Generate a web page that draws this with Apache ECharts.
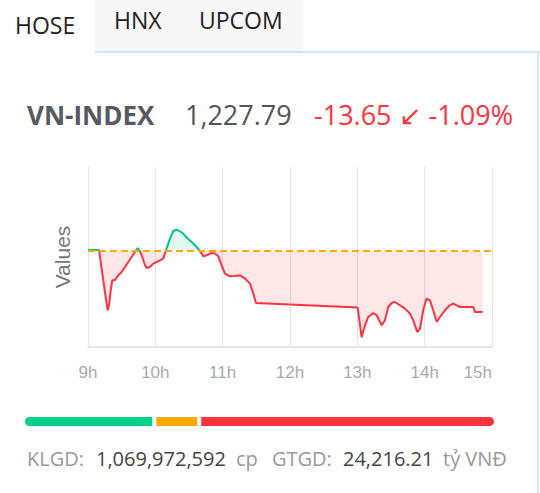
<!DOCTYPE html>
<html>
<head>
<meta charset="utf-8">
<script src="https://cdn.jsdelivr.net/npm/echarts@6/dist/echarts.min.js"></script>
<style>
  html, body { margin:0; padding:0; background:#fff; }
  body { width:540px; height:493px; position:relative; overflow:hidden; font-family:"Open Sans","Noto Sans",sans-serif; }
  #chart { position:absolute; left:0; top:0; width:540px; height:493px; }
  .tabgrey { position:absolute; left:95px; top:0; width:208px; height:52px; background:#f7f7f7; }
  .bline { position:absolute; background:#d2e6fb; }
  .tab { position:absolute; font-size:23px; color:#222; line-height:30px; white-space:nowrap; }
  .hdr { position:absolute; top:99px; line-height:32px; font-size:27px; white-space:nowrap; }
  .ft { position:absolute; top:444px; line-height:30px; font-size:20px; white-space:nowrap; }
</style>
</head>
<body>
<div class="tabgrey"></div>
<div class="bline" style="left:95px;top:51px;width:445px;height:2px;"></div>
<div class="bline" style="left:537px;top:51px;width:2px;height:442px;"></div>
<div class="tab" style="left:15px;top:10px;">HOSE</div>
<div class="tab" style="left:114px;top:5px;">HNX</div>
<div class="tab" style="left:199px;top:5px;">UPCOM</div>

<div class="hdr" style="left:27px;font-weight:bold;font-size:26px;color:#575a62;">VN-INDEX</div>
<div class="hdr" style="left:185px;color:#555;">1,227.79</div>
<div class="hdr" style="left:314px;color:#ff3340;">-13.65 ↙ -1.09%</div>

<div id="chart"></div>

<div class="ft" style="left:27px;color:#999;">KLGD:</div>
<div class="ft" style="left:96px;color:#444;">1,069,972,592</div>
<div class="ft" style="left:236px;color:#999;">cp</div>
<div class="ft" style="left:272px;color:#999;">GTGD:</div>
<div class="ft" style="left:343px;color:#444;">24,216.21</div>
<div class="ft" style="left:443px;color:#999;">tỷ VNĐ</div>

<script>
// ---- data ----
const refValue = 1241.44;
const times = [
  "09:00:00","09:09:50","09:15:06","09:17:30","09:18:42","09:20:30","09:21:36","09:24:06","09:27:00","09:30:00",
  "09:33:00","09:35:54","09:38:54","09:41:54","09:44:18","09:46:18","09:48:24","09:50:48","09:52:18","09:55:12",
  "09:58:12","10:01:12","10:04:06","10:07:06","10:09:30","10:13:06","10:16:00","10:19:00","10:22:00","10:24:54",
  "10:27:54","10:32:24","10:36:48","10:39:48","10:42:42","10:45:42","10:50:12","10:53:06","10:56:06","10:59:06",
  "11:02:00","11:06:30","11:11:00","11:15:24","11:19:54","11:24:18","11:27:18","11:29:42",
  "13:00:18","13:03:48","13:06:48","13:09:42","13:14:12","13:17:12","13:21:42","13:24:36","13:27:30","13:30:36",
  "13:33:30","13:38:00","13:42:24","13:46:54","13:49:48","13:53:24","13:55:48","13:58:42","14:01:42","14:04:42",
  "14:07:36","14:10:42","14:13:36","14:18:06","14:22:30","14:25:24","14:28:30","14:31:24","14:43:18","14:44:48",
  "14:51:36"
];
const values = [
  1241.56,1241.56,1232.22,1228.16,1229.27,1233.04,1234.82,1234.90,1235.93,1236.67,
  1237.78,1238.89,1240.00,1241.11,1242.00,1241.27,1240.00,1238.16,1237.56,1237.78,
  1238.53,1238.89,1239.27,1239.64,1241.49,1244.09,1245.78,1246.09,1245.71,1245.20,
  1244.31,1243.33,1242.22,1241.33,1240.16,1240.38,1240.89,1240.76,1240.16,1238.16,
  1236.31,1235.71,1235.80,1235.93,1235.20,1234.09,1231.87,1229.78,
  1228.76,1222.16,1224.82,1226.67,1227.56,1227.04,1224.82,1225.93,1228.89,1229.78,
  1230.00,1229.27,1228.53,1227.42,1225.93,1223.33,1224.09,1228.16,1230.76,1230.38,
  1228.16,1225.56,1226.67,1228.16,1229.27,1229.64,1229.27,1228.89,1228.89,1227.79,
  1227.79
];
const hourTicks = [9,10,11,12,13,14,15];
const yMin = 1220, yMax = 1260;
const breadthNames = ["up","ref","down"];
const breadthCounts = [111, 38, 251];
const breadthColors = ["#00d287","#ffaa00","#ff333d"];

// ---- build ----
function toMin(t){ const p=t.split(":").map(Number); return (p[0]-9)*60 + p[1] + p[2]/60; }
const lineData = times.map((t,i)=>[toMin(t), values[i]]);
const total = breadthCounts.reduce((a,b)=>a+b,0);

const chart = echarts.init(document.getElementById('chart'), null, {renderer:'svg'});
const barSeries = breadthCounts.map((c,i)=>({
  type:'bar', stack:'b', xAxisIndex:1, yAxisIndex:1, barWidth:13, name:breadthNames[i],
  data:[c], silent:true,
  itemStyle:{ color:breadthColors[i], borderColor:'#fff', borderWidth:2,
    borderRadius: i===0 ? [5.5,0,0,5.5] : (i===breadthCounts.length-1 ? [0,5.5,5.5,0] : 0) }
}));

chart.setOption({
  animation:false,
  grid:[
    {left:88, top:167, width:404, height:180},
    {left:23, top:415, width:473, height:13}
  ],
  xAxis:[
    { type:'value', gridIndex:0, min:0, max:360, interval:60,
      axisLine:{show:true, lineStyle:{color:'#e6e6e6', width:2}},
      axisTick:{show:false},
      splitLine:{show:true, lineStyle:{color:'#e3e3e3', width:1}},
      axisLabel:{ color:'#aaa', fontSize:17, fontFamily:'Liberation Sans, Arial', margin:17,
        alignMaxLabel:'right',
        formatter:v=>{ const h = 9 + v/60; return hourTicks.indexOf(h)>=0 ? h+'h' : ''; } }
    },
    { type:'value', gridIndex:1, min:0, max:total, show:false }
  ],
  yAxis:[
    { type:'value', gridIndex:0, min:yMin, max:yMax,
      axisLine:{show:false}, axisTick:{show:false}, axisLabel:{show:false}, splitLine:{show:false},
      name:'Values', nameLocation:'middle', nameGap:15,
      nameTextStyle:{color:'#777', fontSize:21, fontFamily:'Liberation Sans, Arial'} },
    { type:'category', gridIndex:1, data:['b'], show:false }
  ],
  visualMap:{ show:false, type:'piecewise', seriesIndex:0, dimension:1,
    pieces:[{gte:yMin-100, lt:refValue, color:'#ff3340'},{gte:refValue, lte:yMax+100, color:'#00c985'}] },
  series:[
    { type:'line', data:lineData, showSymbol:false, symbol:'none',
      lineStyle:{width:2},
      areaStyle:{origin:refValue, opacity:0.12},
      markLine:{ silent:true, symbol:'none', label:{show:false},
        lineStyle:{color:'#ffaa00', type:[7,4], width:2},
        data:[{yAxis:refValue}] }
    }
  ].concat(barSeries)
});
</script>
</body>
</html>
